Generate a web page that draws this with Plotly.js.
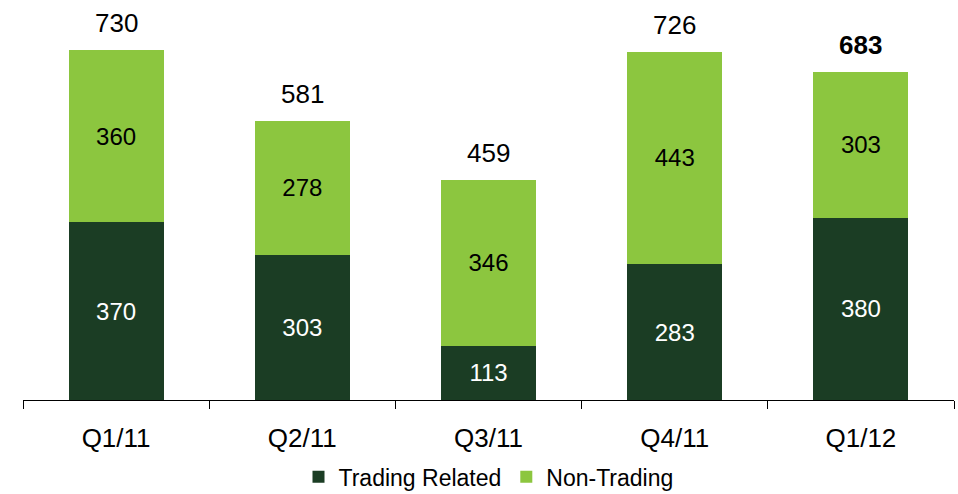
<!DOCTYPE html>
<html>
<head>
<meta charset="utf-8">
<script src="https://cdn.plot.ly/plotly-3.0.1.min.js"></script>
<style>html,body{margin:0;padding:0;background:#fff;}#chart{width:958px;height:494px;}</style>
</head>
<body>
<div id="chart"></div>
<script>
const categories = ["Q1/11", "Q2/11", "Q3/11", "Q4/11", "Q1/12"];
const tradingRelated = [370, 303, 113, 283, 380];
const nonTrading = [360, 278, 346, 443, 303];
const totals = [730, 581, 459, 726, 683];

const font = "Liberation Sans, Arial, sans-serif";
const traces = [
  {
    type: "bar", name: "Trading Related", x: categories, y: tradingRelated,
    marker: {color: "#1b3d24"},
    text: tradingRelated.map(String), textposition: "inside", insidetextanchor: "middle",
    textfont: {color: "#ffffff", size: 24, family: font}, hoverinfo: "none"
  },
  {
    type: "bar", name: "Non-Trading", x: categories, y: nonTrading,
    marker: {color: "#8cc63f"},
    text: nonTrading.map(String), textposition: "inside", insidetextanchor: "middle",
    textfont: {color: "#000000", size: 24, family: font}, hoverinfo: "none"
  }
];

const annotations = categories.map((c, i) => ({
  x: c, y: totals[i], xref: "x", yref: "y", yanchor: "bottom", yshift: 10,
  text: i === categories.length - 1 ? "<b>" + totals[i] + "</b>" : String(totals[i]),
  showarrow: false, font: {size: 26, color: "#000", family: font}
}));

const layout = {
  width: 958, height: 494,
  margin: {l: 23, r: 4, t: 20, b: 94, autoexpand: false},
  barmode: "stack", bargap: 0.49,
  paper_bgcolor: "#fff", plot_bgcolor: "#fff",
  font: {family: font, color: "#000"},
  showlegend: true,
  legend: {orientation: "h", x: 0.5, xanchor: "center", y: -0.202, yanchor: "middle",
           font: {size: 23, family: font}, traceorder: "normal", itemwidth: 30},
  xaxis: {
    automargin: false,
    showline: true, linecolor: "#000", linewidth: 1,
    ticks: "outside", tickson: "boundaries", ticklen: 8, tickcolor: "#000", tickwidth: 1,
    tickfont: {size: 26, family: font, color: "#000"}, ticklabelstandoff: 15,
    showgrid: false, zeroline: false, fixedrange: true
  },
  yaxis: {
    automargin: false,
    range: [0, 792], visible: false, showgrid: false, zeroline: false, fixedrange: true
  },
  annotations: annotations
};

Plotly.newPlot("chart", traces, layout, {displayModeBar: false, staticPlot: true});
</script>
</body>
</html>
